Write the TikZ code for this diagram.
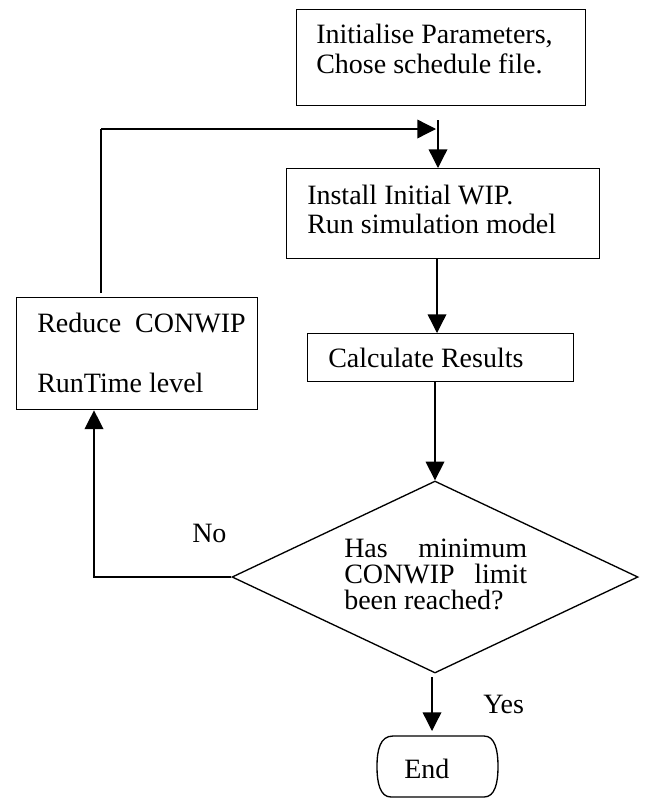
\documentclass[tikz,border=0pt]{standalone}
\usepackage{fontspec}
\setmainfont{Liberation Serif}
\usetikzlibrary{arrows.meta,shapes.geometric}
\begin{document}
\begin{tikzpicture}[x=0.75pt,y=-0.75pt,
  box/.style={draw, line width=1pt, inner sep=0pt, anchor=north west},
  txt/.style={inner sep=0pt, anchor=base west, font=\fontsize{21pt}{22pt}\selectfont},
  arr/.style={line width=1pt, -{Triangle[length=14pt,width=14pt]}},
  ln/.style={line width=1pt}]
\useasboundingbox (0,0) rectangle (645,800);
% boxes
\node[box, minimum width=216.75pt, minimum height=72pt] (init) at (296,9) {};
\node[box, minimum width=234.75pt, minimum height=67.5pt] (inst) at (286,168) {};
\node[box, minimum width=199.5pt, minimum height=36pt] (calc) at (307,333) {};
\node[box, minimum width=180.75pt, minimum height=84pt] (red) at (16,297) {};
\node[diamond, draw, line width=1pt, inner sep=0pt, minimum width=304.5pt, minimum height=144pt] (dec) at (435,577) {};
% end terminator
\coordinate (endc) at (437.5,766.5);
\draw[line width=1pt] (393,736) -- (484,736) .. controls (495,736) and (498,750) .. (498,766.5)
  .. controls (498,783) and (495,797) .. (484,797) -- (391,797)
  .. controls (380,797) and (377,783) .. (377,766.5)
  .. controls (377,750) and (380,736) .. (393,736);
\node[inner sep=0pt] (endn) at (endc) {};
% texts
\node[txt] (t1a) at (316,43) {Initialise Parameters,};
\node[txt] (t1b) at (316,73) {Chose schedule file.};
\node[txt] (t2a) at (307,204) {Install Initial WIP.};
\node[txt] (t2b) at (307,233) {Run simulation model};
\node[txt] (t3) at (328,367) {Calculate Results};
\node[txt] (t4a) at (37,332) {Reduce\ \ CONWIP};
\node[txt] (t4b) at (37,392) {RunTime level};
\node[txt] (t5a) at (344,557) {\makebox[137.25pt]{Has\hfill minimum}};
\node[txt] (t5b) at (344,583) {\makebox[137.25pt]{CONWIP\hfill limit}};
\node[txt] (t5c) at (344,609) {been reached?};
\node[txt] (t6) at (404,778) {End};
\node[txt] (yes) at (483,713) {Yes};
\node[txt] (no) at (192,542) {No};
% connector coordinates
\coordinate (a1s) at (438,120);
\coordinate (l1) at (101,293);
\coordinate (l2) at (101,129);
\coordinate (l3) at (436,129);
\coordinate (n1) at (94,577);
\coordinate (y1) at (432,677);
\coordinate (y2) at (432,731);
% connectors
\draw[arr] (a1s) -- (a1s |- inst.north);
\draw[ln] (l1) -- (l2);
\draw[arr] (l2) -- (l3);
\draw[arr] (inst.south -| 437,0) -- (calc.north -| 437,0);
\draw[arr] (calc.south -| dec.north) -- (dec.north);
\draw[arr] (dec.west) -- (n1) -- (n1 |- red.south);
\draw[arr] (y1) -- (y2);
\end{tikzpicture}
\end{document}
